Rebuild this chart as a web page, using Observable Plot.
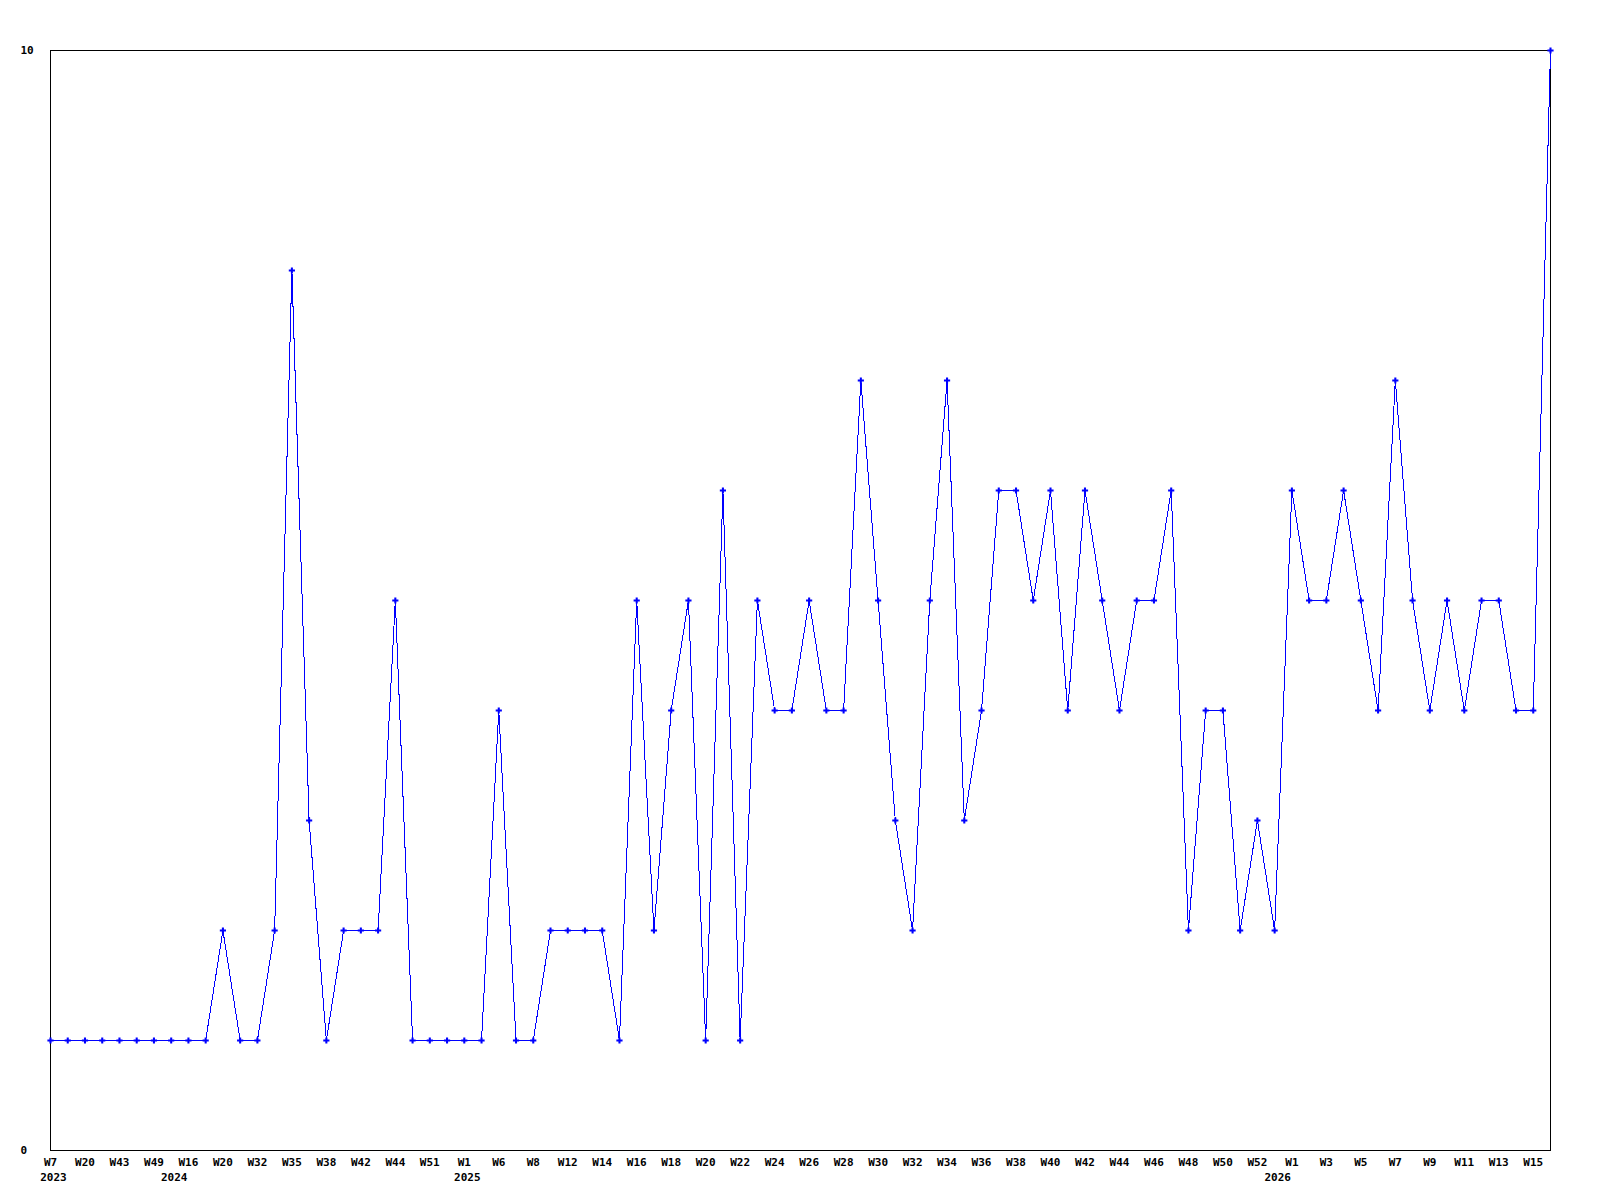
<!DOCTYPE html>
<html><head><meta charset="utf-8">
<script src="https://cdn.jsdelivr.net/npm/d3@7"></script>
<script src="https://cdn.jsdelivr.net/npm/@observablehq/plot@0.6"></script>
<style>body{margin:0;background:#fff} svg{display:block}</style>
</head><body><div id="chart"></div>
<script>
const weeks = [
  "2023-W7","2023-W12","2023-W20","2023-W30","2023-W43","2023-W46","2023-W49",
  "2024-W10","2024-W16","2024-W18","2024-W20","2024-W26","2024-W32","2024-W34","2024-W35","2024-W37","2024-W38","2024-W40","2024-W42","2024-W43","2024-W44","2024-W47","2024-W51","2024-W52",
  "2025-W1","2025-W4","2025-W6","2025-W7","2025-W8","2025-W10","2025-W12","2025-W13","2025-W14","2025-W15","2025-W16","2025-W17","2025-W18","2025-W19","2025-W20","2025-W21",
  "2025-W22","2025-W23","2025-W24","2025-W25","2025-W26","2025-W27","2025-W28","2025-W29","2025-W30","2025-W31","2025-W32","2025-W33","2025-W34","2025-W35","2025-W36","2025-W37",
  "2025-W38","2025-W39","2025-W40","2025-W41","2025-W42","2025-W43","2025-W44","2025-W45","2025-W46","2025-W47","2025-W48","2025-W49","2025-W50","2025-W51","2025-W52",
  "2026-W0","2026-W1","2026-W2","2026-W3","2026-W4","2026-W5","2026-W6","2026-W7","2026-W8","2026-W9","2026-W10","2026-W11","2026-W12","2026-W13","2026-W14","2026-W15","2026-W16"
];
const values = [
  1,1,1,1,1,1,1,1,1,1,
  2,1,1,2,8,3,1,2,2,2,
  5,1,1,1,1,1,4,1,1,2,
  2,2,2,1,5,2,4,5,1,6,
  1,5,4,4,5,4,4,7,5,3,
  2,5,7,3,4,6,6,5,6,4,
  6,5,4,5,5,6,2,4,4,2,
  3,2,6,5,5,6,5,4,7,5,
  4,5,4,5,5,4,4,10
];
const yTicks = [0, 10];

const data = weeks.map((w, i) => ({week: w, value: values[i]}));
const weekTicks = weeks.filter((w, i) => i % 2 === 0);
const firstOfYear = new Map();
weeks.forEach(w => { const y = w.split("-")[0]; if (!firstOfYear.has(y)) firstOfYear.set(y, w); });
const yearTicks = [...firstOfYear.values()];

const chart = Plot.plot({
  width: 1600, height: 1200,
  marginTop: 50, marginRight: 50, marginBottom: 50, marginLeft: 50,
  style: {fontFamily: "'DejaVu Sans Mono', monospace", fontSize: "11px", fontWeight: "bold", color: "#000", background: "#fff"},
  x: {type: "point", domain: weeks, padding: 0, round: false},
  y: {domain: [0, 10]},
  marks: [
    Plot.frame({stroke: "#000", shapeRendering: "crispEdges"}),
    Plot.line(data, {x: "week", y: "value", stroke: "#0000ff", strokeWidth: 1, shapeRendering: "crispEdges"}),
    Plot.dot(data, {x: "week", y: "value", symbol: "cross", r: 2.6, fill: "#0000ff", stroke: "none"}),
    Plot.axisX({ticks: weekTicks, tickFormat: w => w.split("-")[1], tickSize: 0, tickPadding: 8, label: null, fill: "#000"}),
    Plot.axisX({ticks: yearTicks, tickFormat: w => w.split("-")[0], tickSize: 0, tickPadding: 23, dx: 3, label: null, fill: "#000"}),
    Plot.axisY({ticks: yTicks, tickSize: 0, textAnchor: "start", dx: -21, label: null, fill: "#000"})
  ]
});
document.getElementById("chart").appendChild(chart);
</script>
</body></html>
